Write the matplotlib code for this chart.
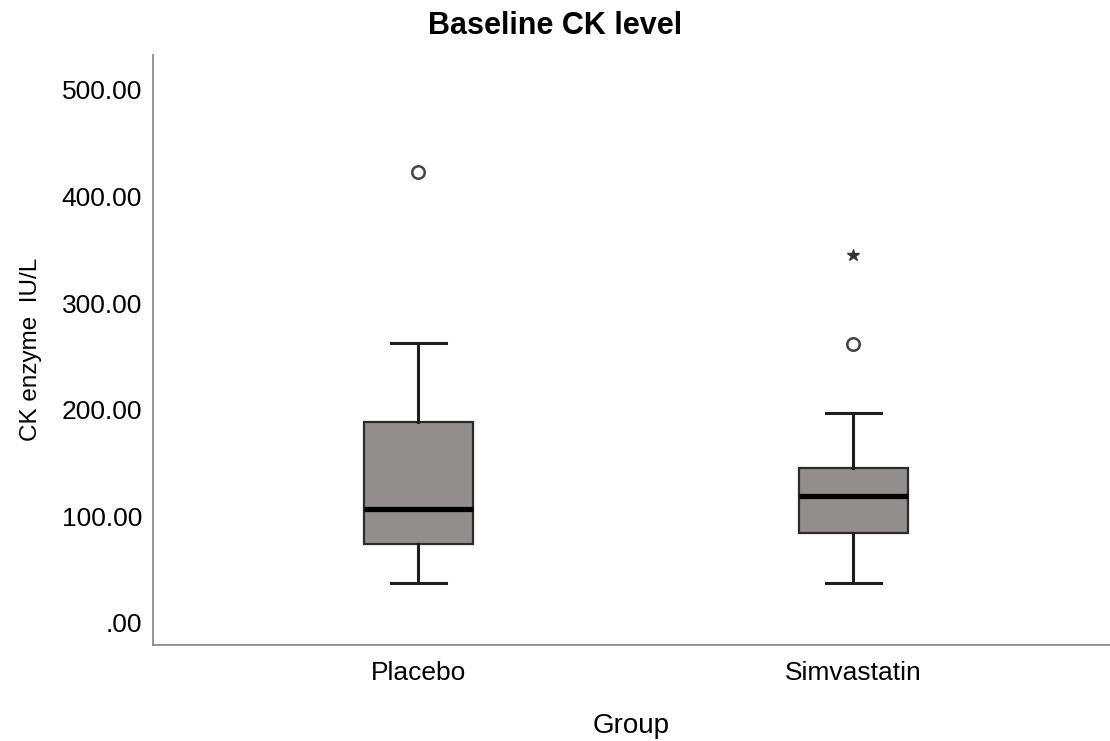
import matplotlib
matplotlib.use("Agg")
import matplotlib.pyplot as plt

plt.rcParams['font.family'] = ['Liberation Sans', 'DejaVu Sans']

# box summaries (CK enzyme, IU/L)
groups = ['Placebo', 'Simvastatin']
whisker_low = [37, 37.5]
q1 = [74, 84]
median = [107, 119]
q3 = [188, 145]
whisker_high = [263, 197]
outliers = [[423], [262]]      # drawn as open circles
extremes = [[], [345]]         # drawn as stars

positions = [1, 2]

fig = plt.figure(figsize=(11.1, 7.41), dpi=100)
ax = fig.add_axes([0.138, 0.13, 0.862, 0.796])

stats = []
for i, name in enumerate(groups):
    stats.append(dict(label=name, whislo=whisker_low[i], q1=q1[i], med=median[i],
                      q3=q3[i], whishi=whisker_high[i], fliers=outliers[i]))

ax.bxp(stats, positions=positions, widths=0.25, capwidths=0.125, patch_artist=True,
       boxprops=dict(facecolor='#928e8d', edgecolor='#2b2b2b', linewidth=1.6),
       whiskerprops=dict(color='#1e1e1e', linewidth=2.2),
       capprops=dict(color='#1e1e1e', linewidth=2.2),
       medianprops=dict(color='#000000', linewidth=3.8),
       flierprops=dict(marker='o', markerfacecolor='white', markeredgecolor='#444444',
                       markersize=9, markeredgewidth=1.8))

for i, ext in enumerate(extremes):
    if ext:
        ax.plot([positions[i]] * len(ext), ext, linestyle='none', marker='*',
                color='#333333', markersize=9)

ax.set_xlim(0.39, 2.59)
ax.set_ylim(-20.6, 533)
ax.set_yticks([0, 100, 200, 300, 400, 500])
ax.set_yticklabels(['.00', '100.00', '200.00', '300.00', '400.00', '500.00'])
ax.tick_params(axis='both', length=0, labelsize=19, pad=8)
ax.tick_params(axis='x', pad=12)

for side in ['top', 'right']:
    ax.spines[side].set_visible(False)
for side in ['left', 'bottom']:
    ax.spines[side].set_color('#8a8a8a')
    ax.spines[side].set_linewidth(1.3)

# title is centred on the whole figure, not on the axes
fig.text(0.5, 0.965, 'Baseline CK level', fontsize=22, fontweight='bold',
         ha='center', va='center')
ax.set_ylabel('CK enzyme  IU/L', fontsize=17.5, labelpad=14)
ax.set_xlabel('Group', fontsize=20, labelpad=20)

fig.savefig('out.png', dpi=100)
